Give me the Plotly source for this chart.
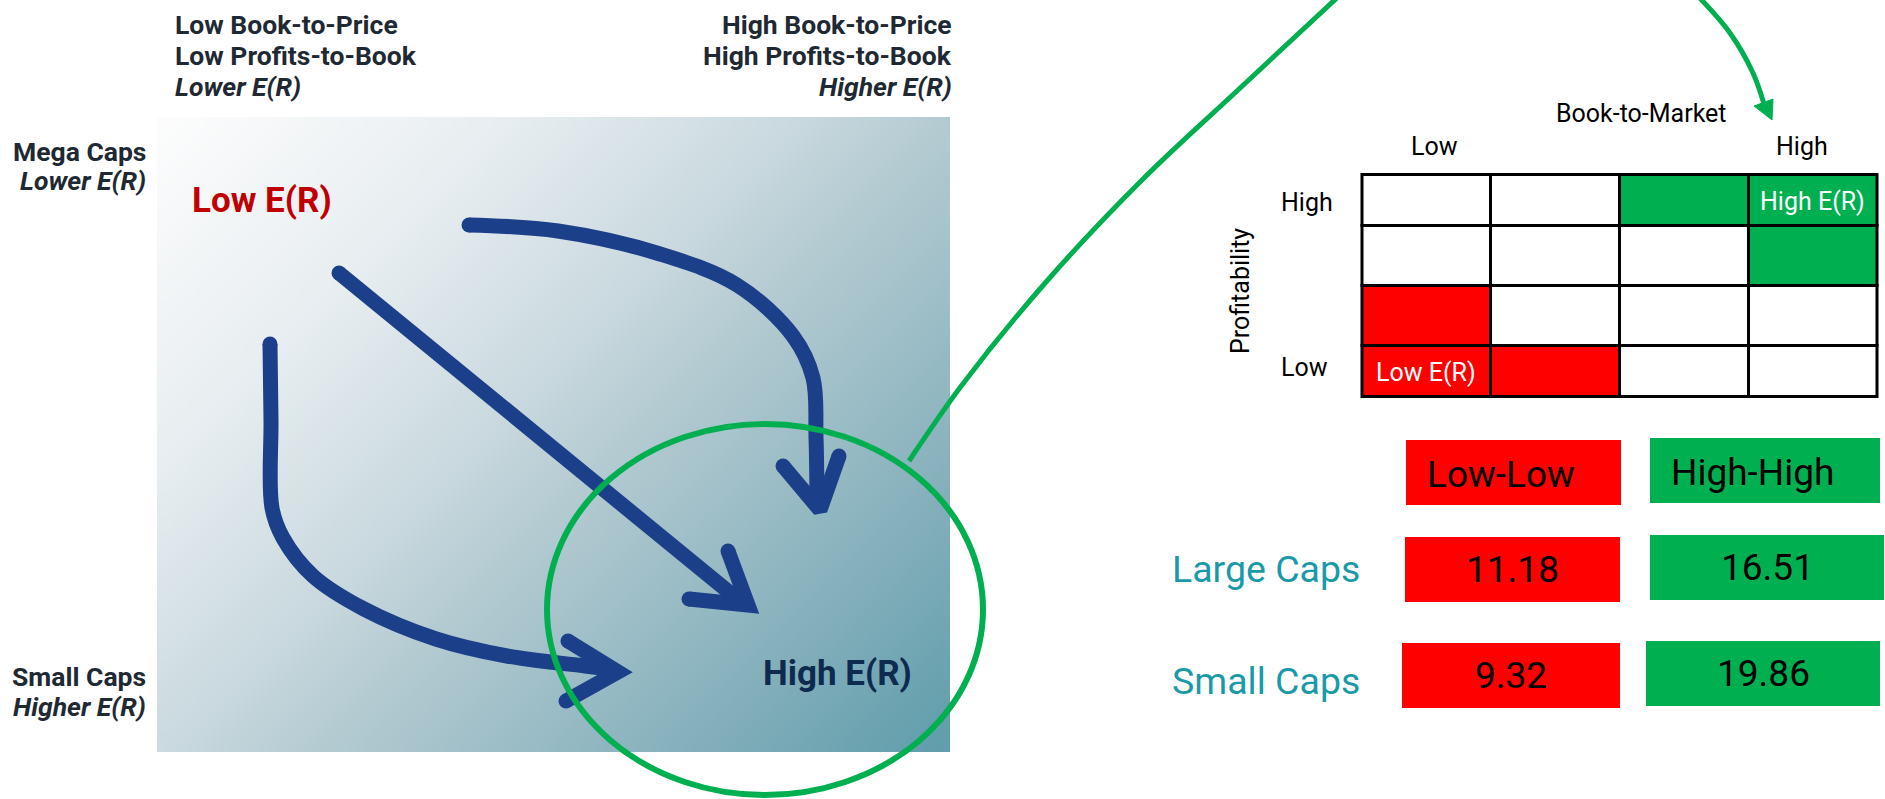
import numpy as np
import plotly.graph_objects as go

# ---------------------------------------------------------------- data
# left panel: size / value-profitability map
top_left_lines = ["Low Book-to-Price", "Low Profits-to-Book", "Lower E(R)"]
top_right_lines = ["High Book-to-Price", "High Profits-to-Book", "Higher E(R)"]
side_top_lines = ["Mega Caps", "Lower E(R)"]
side_bottom_lines = ["Small Caps", "Higher E(R)"]
corner_low = "Low E(R)"
corner_high = "High E(R)"

# right panel: 4x4 book-to-market / profitability grid (top row = high profitability)
bm_axis_title = "Book-to-Market"
bm_labels = ["Low", "High"]
prof_axis_title = "Profitability"
prof_labels = ["High", "Low"]
grid_groups = [
    ["", "", "high", "high"],
    ["", "", "", "high"],
    ["low", "", "", ""],
    ["low", "low", "", ""],
]
grid_cell_text = {(0, 3): "High E(R)", (3, 0): "Low E(R)"}

# annualised returns (%) by portfolio
portfolios = ["Low-Low", "High-High"]
size_groups = ["Large Caps", "Small Caps"]
large_caps = [11.18, 16.51]
small_caps = [9.32, 19.86]

# ---------------------------------------------------------------- styling
W, H = 1885, 799
TXT = "#1f2933"
NAVY = "#1c3f8a"
GREEN = "#00b050"
RED = "#ff0000"
TEAL = "#1a9aa8"
FONT = "Roboto"
ARROW_W = 15

fig = go.Figure()

# gradient panel drawn as a smoothed heatmap
bx0, bx1, by0, by1 = 157, 950, 117, 752
nx, ny = 60, 48
xs = bx0 + (np.arange(nx) + 0.5) * (bx1 - bx0) / nx
ys = by0 + (np.arange(ny) + 0.5) * (by1 - by0) / ny
XX, YY = np.meshgrid(xs, ys)
zz = ((XX - bx0) + (YY - by0)) / ((bx1 - bx0) + (by1 - by0))
fig.add_trace(go.Heatmap(
    x=xs, y=ys, z=zz, zmin=0, zmax=1, zsmooth="best", showscale=False,
    hoverinfo="skip",
    colorscale=[[0, "#fdfdfd"], [0.25, "#e7edf0"], [0.45, "#c9d9df"],
                [0.55, "#b5cbd2"], [0.78, "#8ab3be"], [1, "#5f9cab"]],
))


def stroke(xp, yp, width=ARROW_W, color=NAVY, spline=True):
    fig.add_trace(go.Scatter(
        x=xp, y=yp, mode="lines", hoverinfo="skip", showlegend=False,
        line=dict(color=color, width=width, shape="spline" if spline else "linear",
                  smoothing=1.0),
    ))


def caps(pts, width=ARROW_W, color=NAVY):
    fig.add_trace(go.Scatter(
        x=[p[0] for p in pts], y=[p[1] for p in pts], mode="markers",
        hoverinfo="skip", showlegend=False,
        marker=dict(size=width, color=color, line=dict(width=0)),
    ))


# three flow arrows toward the high-return corner
stroke([270, 271, 272, 283, 313, 364, 436, 507, 585, 612],
       [344, 420, 508, 538, 576, 609, 639, 656, 666, 669])
stroke([568, 618, 566], [641, 672, 701], spline=False)
stroke([339, 746], [273, 606], spline=False)
stroke([728, 748, 689], [551, 605, 599], spline=False)
stroke([469, 558, 660, 737, 793, 813, 816, 817],
       [225, 231, 254, 285, 336, 378, 437, 503])
stroke([783, 820, 839], [466, 510, 456], spline=False)
caps([(270, 344), (568, 641), (566, 701), (339, 273), (728, 551), (689, 599),
      (469, 225), (783, 466), (839, 456)])

# green highlight ring and connector to the grid
fig.add_shape(type="circle", xref="x", yref="y", x0=547, x1=983, y0=424, y1=795,
              line=dict(color=GREEN, width=6), layer="above")
stroke([909, 962, 1046, 1142, 1238, 1340], [461, 385, 282, 180, 90, -5],
       width=5, color=GREEN)
stroke([1697, 1730, 1753, 1764], [-5, 33, 73, 104], width=5, color=GREEN)
fig.add_trace(go.Scatter(
    x=[1754, 1772, 1773, 1754], y=[106, 120, 99, 106], mode="lines", fill="toself",
    fillcolor=GREEN, line=dict(color=GREEN, width=1), hoverinfo="skip", showlegend=False,
))

annotations = []


def text(x, y, s, size, color=TXT, xanchor="left", bold=False, italic=False,
         angle=0):
    annotations.append(dict(
        x=x, y=y, xref="x", yref="y", text=s, showarrow=False,
        xanchor=xanchor, yanchor="middle", textangle=angle,
        font=dict(family=FONT, size=size, color=color,
                  weight="bold" if bold else "normal",
                  style="italic" if italic else "normal"),
    ))


HS = 26.5
line_y = [24, 55, 86]
for i, s in enumerate(top_left_lines):
    text(173, line_y[i], s, HS, bold=True, italic=(i == 2))
for i, s in enumerate(top_right_lines):
    text(954, line_y[i], s, HS, xanchor="right", bold=True, italic=(i == 2))
for i, s in enumerate(side_top_lines):
    text(148, [151, 180][i], s, HS, xanchor="right", bold=True, italic=(i == 1))
for i, s in enumerate(side_bottom_lines):
    text(148, [676, 706][i], s, HS, xanchor="right", bold=True, italic=(i == 1))
text(190, 200, corner_low, 35, color="#c00000", bold=True)
text(761, 673, corner_high, 35, color="#0f2a4f", bold=True)

# grid
col_edges = [1362, 1490.5, 1619.5, 1748.5, 1877]
row_edges = [174.5, 225.5, 285.5, 345.5, 396.5]
fills = {"high": GREEN, "low": RED, "": "white"}
for r in range(4):
    for c in range(4):
        fig.add_shape(type="rect", xref="x", yref="y",
                      x0=col_edges[c], x1=col_edges[c + 1],
                      y0=row_edges[r], y1=row_edges[r + 1],
                      fillcolor=fills[grid_groups[r][c]],
                      line=dict(color="black", width=3), layer="above")
for (r, c), s in grid_cell_text.items():
    text((col_edges[c] + col_edges[c + 1]) / 2, (row_edges[r] + row_edges[r + 1]) / 2 + 1,
         s, 25, color="white", xanchor="center")

text(1641, 113, bm_axis_title, 25, color="black", xanchor="center")
text(1434, 146, bm_labels[0], 25, color="black", xanchor="center")
text(1802, 146, bm_labels[1], 25, color="black", xanchor="center")
text(1279, 202, prof_labels[0], 25, color="black")
text(1279, 367, prof_labels[1], 25, color="black")
text(1240, 291, prof_axis_title, 25, color="black", xanchor="center", angle=-90)

# return table
red_boxes = [(1406, 1621, 440, 505), (1405, 1620, 537, 602), (1402, 1620, 643, 708)]
green_boxes = [(1650, 1880, 438, 503), (1650, 1884, 535, 600), (1646, 1880, 641, 706)]
rows = [portfolios, [f"{v:.2f}" for v in large_caps], [f"{v:.2f}" for v in small_caps]]
for i in range(3):
    for j, (box, col) in enumerate([(red_boxes[i], RED), (green_boxes[i], GREEN)]):
        x0, x1, y0, y1 = box
        fig.add_shape(type="rect", xref="x", yref="y", x0=x0, x1=x1, y0=y0, y1=y1,
                      fillcolor=col, line=dict(width=0), layer="above")
        dx = -13 if i == 0 else 0
        text((x0 + x1) / 2 + dx, (y0 + y1) / 2 + (2 if i == 0 else 0), rows[i][j], 37,
             color="black", xanchor="center")
text(1170, 569, size_groups[0], 37.5, color=TEAL)
text(1170, 681, size_groups[1], 37.5, color=TEAL)

fig.update_layout(
    width=W, height=H, margin=dict(l=0, r=0, t=0, b=0),
    paper_bgcolor="white", plot_bgcolor="white", showlegend=False,
    xaxis=dict(range=[0, W], visible=False, fixedrange=True),
    yaxis=dict(range=[H, 0], visible=False, fixedrange=True),
    annotations=annotations,
)
fig.write_html("out.html", config={"displayModeBar": False})
